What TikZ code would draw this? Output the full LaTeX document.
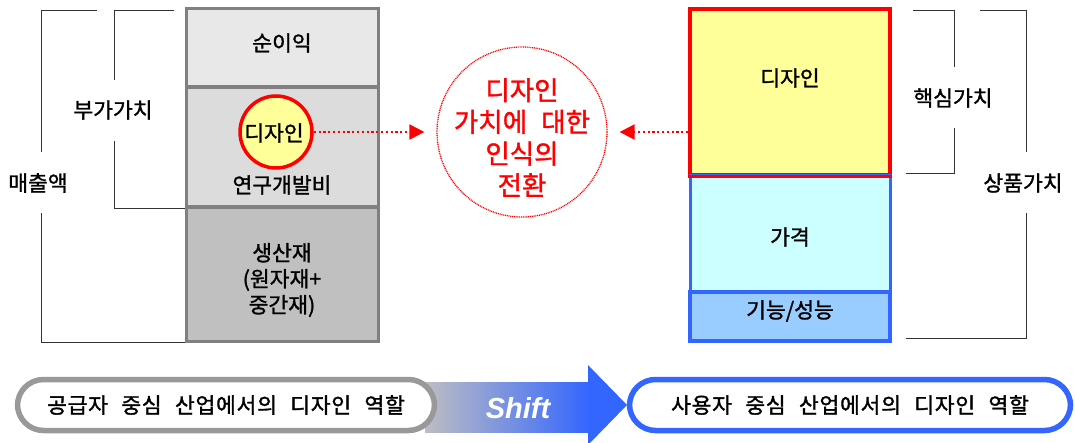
\documentclass[tikz,border=0pt]{standalone}
\usepackage{fontspec}
\setmainfont{Noto Sans CJK KR}[AutoFakeBold=1.3, WordSpace=2.4]
\newfontfamily\widekr{Noto Sans CJK KR}[AutoFakeBold=1.5, WordSpace=2.4, LetterSpace=3.5]
\newfontfamily\latinf{Liberation Sans}
\usetikzlibrary{arrows.meta}
\definecolor{boxgray}{HTML}{808080}
\definecolor{fillA}{HTML}{E8E8E8}
\definecolor{fillB}{HTML}{DCDCDC}
\definecolor{fillC}{HTML}{C0C0C0}
\definecolor{pyellow}{HTML}{FFFF99}
\definecolor{pcyan}{HTML}{CCFFFF}
\definecolor{pblue}{HTML}{99CCFF}
\definecolor{bblue}{HTML}{3366FF}
\definecolor{shiftgray}{HTML}{BDBDC2}
\definecolor{brk}{HTML}{333333}
\tikzset{
  lbl/.style={font=\bfseries\fontsize{21.5}{24}\selectfont, inner sep=0pt, text=black},
  widelbl/.style={font=\widekr\bfseries\fontsize{21.5}{24}\selectfont, inner sep=0pt, text=black},
  graybox/.style={draw=boxgray, line width=3pt, inner sep=0pt},
  bracketline/.style={draw=brk, line width=0.9pt},
  redarrow/.style={draw=red, line width=2.2pt, dash pattern=on 2.2pt off 2.6pt, -{Triangle[length=15pt,width=15pt]}},
  roundbox/.style={line width=5.5pt, rounded corners=26pt, fill=white, inner sep=0pt},
}
\begin{document}
\begin{tikzpicture}[x=1pt,y=-1pt]
\useasboundingbox (0,0) rectangle (1075,443);
% left column
\node[graybox, fill=fillA, minimum width=192pt, minimum height=78pt] (net) at (282,48) {};
\node[graybox, fill=fillB, minimum width=192pt, minimum height=119pt] (rnd) at (282,147.5) {};
\node[graybox, fill=fillC, minimum width=192pt, minimum height=133pt] (mat) at (282,274.5) {};
\node[lbl] (netl) at (282,43) {순이익};
\node[circle, draw=red, line width=3.5pt, fill=pyellow, minimum size=72pt, inner sep=0pt] (dcirc) at (276,132) {};
\node[lbl] (dcircl) at (274,133) {디자인};
\node[lbl] (rndl) at (282,185) {연구개발비};
\node[lbl, align=center, font=\bfseries\fontsize{21.5}{26}\selectfont] (matl) at (282,280) {생산재\\(원자재+\\중간재)};
% left brackets
\node[lbl] (sales) at (38,183) {매출액};
\node[lbl] (addv) at (113,110) {부가가치};
\coordinate (s1) at (41,152);
\coordinate (s2) at (41,213);
\coordinate (a1) at (114,80);
\coordinate (a2) at (114,141);
\draw[bracketline] (97,10) -| (s1);
\draw[bracketline] (s2) |- (mat.south west);
\draw[bracketline] (174,10) -| (a1);
\draw[bracketline] (a2) |- (rnd.south west);
% center circle
\node[circle, draw=red, line width=1.3pt, dash pattern=on 1pt off 0.8pt, minimum size=170pt, inner sep=0pt] (shiftc) at (522,132) {};
\node[align=center, text=red, font=\bfseries\fontsize{26.5}{31.7}\selectfont, inner sep=0pt] (shiftl) at (522,137.5) {디자인\\가치에 대한\\인식의\\전환};
% right column
\node[draw=red, line width=3.5pt, fill=pyellow, minimum width=200pt, minimum height=166pt, inner sep=0pt] (rdes) at (790,92) {};
\node[draw=bblue, line width=3pt, fill=pcyan, minimum width=200pt, minimum height=116pt, inner sep=0pt] (rprice) at (790,234) {};
\node[draw=bblue, line width=3.5pt, fill=pblue, minimum width=200pt, minimum height=49pt, inner sep=0pt] (rfunc) at (790,316.5) {};
\draw[red, line width=3.5pt] (rdes.south west) -- (rdes.south east);
\node[lbl] (rdesl) at (790,78) {디자인};
\node[lbl] (rpricel) at (790,237) {가격};
\node[lbl] (rfuncl) at (790,311) {기능/성능};
% right brackets
\node[lbl] (core) at (953,98) {핵심가치};
\node[lbl] (prod) at (1023,183) {상품가치};
\coordinate (c1) at (954,67);
\coordinate (c2) at (954,128);
\coordinate (p1) at (1026,152);
\coordinate (p2) at (1026,213);
\draw[bracketline] (913,10) -| (c1);
\draw[bracketline] (c2) |- (906,173);
\draw[bracketline] (980,10) -| (p1);
\draw[bracketline] (p2) |- (906,338);
% arrows
\draw[redarrow] (dcirc.east) -- ([xshift=-12pt]shiftc.west);
\draw[redarrow] (rdes.west |- shiftc.center) -- ([xshift=12pt]shiftc.east);
% bottom shift arrow
\shade[left color=shiftgray, right color=bblue] (425,382) rectangle (590,432);
\fill[bblue] (588,365) -- (627,405) -- (588,445) -- cycle;
\node[text=white, font=\latinf\bfseries\itshape\fontsize{29}{32}\selectfont, inner sep=0pt] (shiftt) at (518,408) {Shift};
\node[roundbox, draw=boxgray!80, minimum width=417pt, minimum height=51pt] (lbox) at (226,405) {};
\node[widelbl] (lboxl) at (226,405) {공급자 중심 산업에서의 디자인 역할};
\node[roundbox, draw=bblue, minimum width=441pt, minimum height=51pt] (rbox) at (850,405) {};
\node[widelbl] (rboxl) at (850,405) {사용자 중심 산업에서의 디자인 역할};
\end{tikzpicture}
\end{document}
